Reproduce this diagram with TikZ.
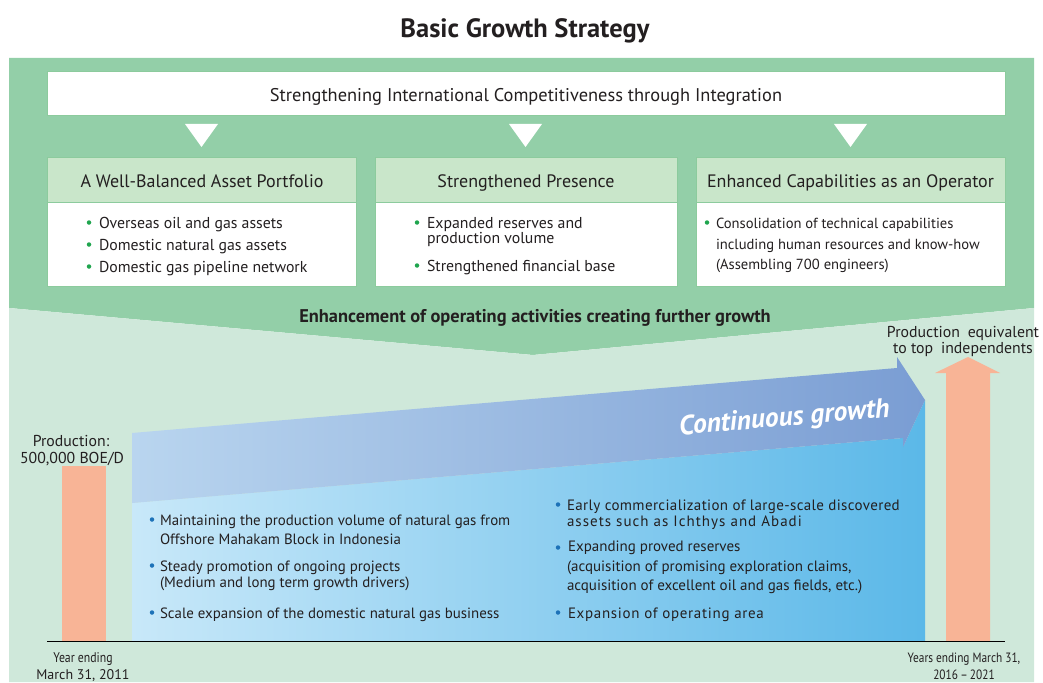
\documentclass[tikz,border=0pt]{standalone}
\usepackage{fontspec}
\setmainfont{PT Sans}
\newfontfamily\condfont[FakeStretch=0.84]{PT Sans}
\definecolor{greendark}{HTML}{93CFA8}
\definecolor{greenlight}{HTML}{CFE8DA}
\definecolor{headfill}{HTML}{C9E6CA}
\definecolor{boxline}{HTML}{8CCB9D}
\definecolor{dotgreen}{HTML}{1FA54E}
\definecolor{dotblue}{HTML}{1D72B8}
\definecolor{textgray}{HTML}{231F20}
\definecolor{orangebar}{HTML}{F8B496}
\definecolor{lowleft}{HTML}{C8E8F9}
\definecolor{lowright}{HTML}{5BB8E8}
\definecolor{bandleft}{HTML}{B9D5EF}
\definecolor{bandright}{HTML}{7A9DD3}
\begin{document}
\begin{tikzpicture}[x=1pt, y=-1pt, text=textgray,
    every node/.style={inner sep=0pt, outer sep=0pt},
    box/.style={draw=boxline, fill=white, line width=1pt, anchor=north west},
    head/.style={draw=boxline, fill=headfill, line width=1pt, anchor=north west},
    headtext/.style={anchor=base, font=\fontsize{18}{21}\selectfont},
    item/.style={anchor=base west, font=\fontsize{15.8}{18}\selectfont},
    opitem/.style={anchor=base west, font=\fontsize{14.6}{17}\selectfont},
    lowitem/.style={anchor=base west, font=\fontsize{14.9}{17}\selectfont},
    highitem/.style={anchor=base west, font=\fontsize{15}{17}\selectfont},
    note/.style={anchor=base, font=\fontsize{15.8}{18}\selectfont},
    yearnote/.style={anchor=base, font=\condfont\fontsize{13.5}{16}\selectfont},
    gdot/.style={circle, fill=dotgreen, minimum size=4.5pt},
    bdot/.style={circle, fill=dotblue, minimum size=4.5pt}]
    \useasboundingbox (0,0) rectangle (1043,682);

    % backgrounds
    \fill[greendark] (9,58) -- (1034,58) -- (1034,308) -- (533,355) -- (9,308) -- cycle;
    \fill[greenlight] (9,308) -- (533,355) -- (1034,308) -- (1034,682) -- (9,682) -- cycle;

    \node[anchor=base, font=\bfseries\fontsize{26.5}{30}\selectfont] (title) at (525,38) {Basic Growth Strategy};

    % top banner and the three pillars
    \node[box, minimum width=958, minimum height=44] (banner) at (47,72) {};
    \node[anchor=base, font=\fontsize{18.4}{21}\selectfont] (bannertext) at (526,102) {Strengthening International Competitiveness through Integration};
    \fill[white] (185,124) -- (218,124) -- (201.5,147) -- cycle;
    \fill[white] (509,124) -- (542,124) -- (525.5,147) -- cycle;
    \fill[white] (834,124) -- (867,124) -- (850.5,147) -- cycle;

    \node[box, minimum width=309, minimum height=129] (asset) at (47,157) {};
    \node[head, minimum width=309, minimum height=45] (assethead) at (asset.north west) {};
    \node[headtext] (assettitle) at (202,187) {A Well-Balanced Asset Portfolio};
    \node[box, minimum width=302, minimum height=129] (pres) at (375,157) {};
    \node[head, minimum width=302, minimum height=45] (preshead) at (pres.north west) {};
    \node[headtext] (prestitle) at (526,187) {Strengthened Presence};
    \node[box, minimum width=309, minimum height=129] (oper) at (696,157) {};
    \node[head, minimum width=309, minimum height=45] (operhead) at (oper.north west) {};
    \node[headtext] (opertitle) at (850.5,187) {Enhanced Capabilities as an Operator};

    \node[gdot] (asset1dot) at (89,222.5) {};
    \node[item] (asset1) at (99,228) {Overseas oil and gas assets};
    \node[gdot] (asset2dot) at (89,244.5) {};
    \node[item] (asset2) at (99,250) {Domestic natural gas assets};
    \node[gdot] (asset3dot) at (89,266.5) {};
    \node[item] (asset3) at (99,272) {Domestic gas pipeline network};

    \node[gdot] (pres1dot) at (417,222.5) {};
    \node[item] (pres1) at (427,228) {Expanded reserves and};
    \node[item] (pres1b) at (427,243) {production volume};
    \node[gdot] (pres2dot) at (417,265.5) {};
    \node[item] (pres2) at (427,271) {Strengthened financial base};

    \node[gdot] (oper1dot) at (707,222.5) {};
    \node[opitem] (oper1) at (716,228) {Consolidation of technical capabilities};
    \node[opitem] (oper1b) at (716,249) {including human resources and know-how};
    \node[opitem] (oper1c) at (716,269) {(Assembling 700 engineers)};

    \node[anchor=base, font=\bfseries\fontsize{18.4}{21}\selectfont] (enhance) at (535,322) {Enhancement of operating activities creating further growth};

    % growth area
    \shade[left color=lowleft, right color=lowright] (132,503) -- (903,438) -- (903,447) -- (925,400) -- (925,641) -- (132,641) -- cycle;
    \shade[left color=bandleft, right color=bandright] (132,433) -- (897,368) -- (897,357) -- (925,400) -- (903,447) -- (903,438) -- (132,503) -- cycle;
    \node[anchor=base, rotate=5, text=white, font=\bfseries\itshape\fontsize{27.5}{32}\selectfont] (growth) at (785,426) {Continuous growth};

    \fill[orangebar] (62,466) rectangle (106,641);
    \fill[orangebar] (946,641) -- (946,373) -- (935,373) -- (968,357) -- (1000,373) -- (990,373) -- (990,641) -- cycle;
    \coordinate (axisstart) at (47,641);
    \coordinate (axisend) at (1005,641);
    \draw[line width=0.8pt, black] (axisstart) -- (axisend);

    \node[note] (prodnow) at (71,446) {Production:};
    \node[note] (prodnowb) at (72,463) {500,000 BOE/D};
    \node[note] (prodtop) at (963,337) {Production\enspace equivalent};
    \node[note] (prodtopb) at (963,353) {to top\enspace independents};
    \node[yearnote, font=\condfont\fontsize{14}{16}\selectfont] (yearnow) at (83,662) {Year ending};
    \node[yearnote, font=\fontsize{14}{16}\selectfont] (yearnowb) at (83,679) {March 31, 2011};
    \node[yearnote] (yeartop) at (964,662) {Years ending March 31,};
    \node[yearnote] (yeartopb) at (964,679) {2016\,–\,2021};

    \node[bdot] (low1dot) at (152,519.5) {};
    \node[lowitem] (low1) at (160,525) {Maintaining the production volume of natural gas from};
    \node[lowitem] (low1b) at (160,544) {Offshore Mahakam Block in Indonesia};
    \node[bdot] (low2dot) at (152,565.5) {};
    \node[lowitem] (low2) at (160,571) {Steady promotion of ongoing projects};
    \node[lowitem] (low2b) at (160,587) {(Medium and long term growth drivers)};
    \node[bdot] (low3dot) at (152,612.5) {};
    \node[lowitem] (low3) at (160,618) {Scale expansion of the domestic natural gas business};

    \node[bdot] (high1dot) at (558,504.5) {};
    \node[highitem] (high1) at (567,510) {\addfontfeature{LetterSpace=2.4}Early commercialization of large-scale discovered};
    \node[highitem] (high1b) at (567,526) {\addfontfeature{LetterSpace=6.8}assets such as Ichthys and Abadi};
    \node[bdot] (high2dot) at (558,547.5) {};
    \node[highitem] (high2) at (568,551) {Expanding proved reserves};
    \node[highitem] (high2b) at (567,571) {(acquisition of promising exploration claims,};
    \node[highitem] (high2c) at (567,590) {acquisition of excellent oil and gas fields, etc.)};
    \node[bdot] (high3dot) at (558,612.5) {};
    \node[highitem] (high3) at (568,618) {\addfontfeature{LetterSpace=4.6}Expansion of operating area};
\end{tikzpicture}
\end{document}
